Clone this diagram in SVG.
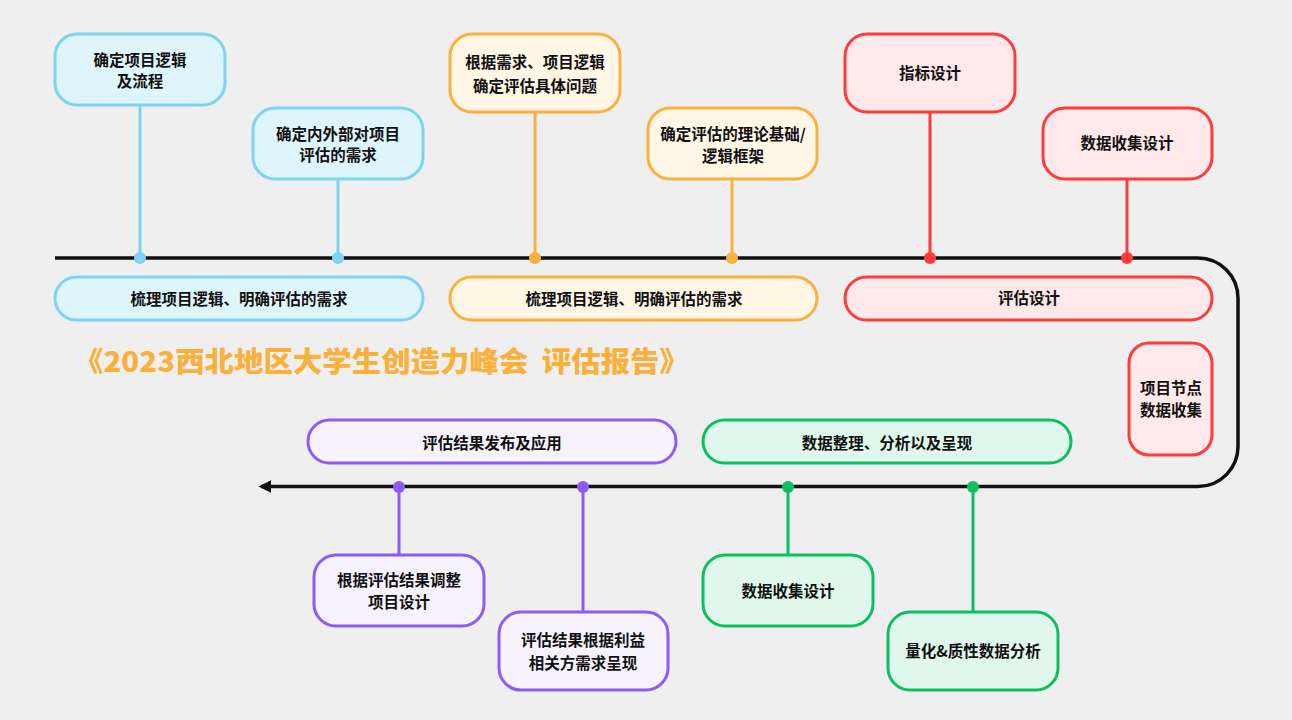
<svg xmlns="http://www.w3.org/2000/svg" width="1292" height="720" viewBox="0 0 1292 720">
<defs>
<style>
.t{font-family:"Noto Sans CJK SC","Liberation Sans",sans-serif;font-size:15.5px;font-weight:bold;fill:#111;text-anchor:middle;dominant-baseline:central}
.b rect{fill:#dff5fc;stroke:#7dd3f2;stroke-width:3}
.o rect{fill:#fff6e6;stroke:#fbb040;stroke-width:3}
.r rect{fill:#ffe9ea;stroke:#ff3b3b;stroke-width:3}
.p rect{fill:#f6f3fe;stroke:#8b5cf6;stroke-width:3}
.g rect{fill:#e0f8ec;stroke:#0dbf63;stroke-width:3}
.cb{stroke:#7dd3f2;stroke-width:3}
.co{stroke:#fbb040;stroke-width:3}
.cr{stroke:#ff3b3b;stroke-width:3}
.cp{stroke:#8b5cf6;stroke-width:3}
.cg{stroke:#0dbf63;stroke-width:3}
</style>
<marker id="ah" viewBox="0 0 10 10" refX="8" refY="5" markerWidth="3.6" markerHeight="3.6" orient="auto" markerUnits="strokeWidth">
<path d="M0,0 L10,5 L0,10 Z" fill="#111"/>
</marker>
</defs>
<rect width="1292" height="720" fill="#efefef"/>

<g id="connectors">
<path d="M55,258 H1198 A40,40 0 0 1 1238,298 V446 A40,40 0 0 1 1198,486.5 H261" fill="none" stroke="#111" stroke-width="3.5" marker-end="url(#ah)"/>
<line class="cb" x1="140" y1="105" x2="140" y2="258"/><circle cx="140" cy="258" r="6" fill="#7dd3f2"/>
<line class="cb" x1="338" y1="179" x2="338" y2="258"/><circle cx="338" cy="258" r="6" fill="#7dd3f2"/>
<line class="co" x1="535" y1="112" x2="535" y2="258"/><circle cx="535" cy="258" r="6" fill="#fbb040"/>
<line class="co" x1="732" y1="179" x2="732" y2="258"/><circle cx="732" cy="258" r="6" fill="#fbb040"/>
<line class="cr" x1="930" y1="112" x2="930" y2="258"/><circle cx="930" cy="258" r="6" fill="#ff3b3b"/>
<line class="cr" x1="1127" y1="179" x2="1127" y2="258"/><circle cx="1127" cy="258" r="6" fill="#ff3b3b"/>
<line class="cp" x1="399" y1="487" x2="399" y2="555"/><circle cx="399" cy="487" r="6" fill="#8b5cf6"/>
<line class="cp" x1="583" y1="487" x2="583" y2="612"/><circle cx="583" cy="487" r="6" fill="#8b5cf6"/>
<line class="cg" x1="788" y1="487" x2="788" y2="555"/><circle cx="788" cy="487" r="6" fill="#0dbf63"/>
<line class="cg" x1="973" y1="487" x2="973" y2="612"/><circle cx="973" cy="487" r="6" fill="#0dbf63"/>
</g>

<g id="n1" class="b"><rect x="55" y="34" width="170" height="71" rx="22"/><text class="t" x="140" y="59">确定项目逻辑</text><text class="t" x="140" y="80">及流程</text></g>
<g id="n2" class="b"><rect x="253" y="108" width="170" height="71" rx="22"/><text class="t" x="338" y="133">确定内外部对项目</text><text class="t" x="338" y="154">评估的需求</text></g>
<g id="n3" class="b"><rect x="55" y="277" width="368" height="43" rx="21.5"/><text class="t" x="239" y="298">梳理项目逻辑、明确评估的需求</text></g>

<g id="n4" class="o"><rect x="450" y="34" width="170" height="78" rx="22"/><text class="t" x="535" y="61">根据需求、项目逻辑</text><text class="t" x="535" y="85">确定评估具体问题</text></g>
<g id="n5" class="o"><rect x="648" y="108" width="169" height="71" rx="22"/><text class="t" x="733" y="133">确定评估的理论基础/</text><text class="t" x="733" y="155">逻辑框架</text></g>
<g id="n6" class="o"><rect x="450" y="277" width="367" height="43" rx="21.5"/><text class="t" x="634" y="298">梳理项目逻辑、明确评估的需求</text></g>

<g id="n7" class="r"><rect x="845" y="34" width="170" height="78" rx="22"/><text class="t" x="930" y="72">指标设计</text></g>
<g id="n8" class="r"><rect x="1043" y="108" width="169" height="71" rx="22"/><text class="t" x="1127" y="142">数据收集设计</text></g>
<g id="n9" class="r"><rect x="845" y="277" width="367" height="43" rx="21.5"/><text class="t" x="1029" y="297">评估设计</text></g>
<g id="n10" class="r"><rect x="1129" y="343" width="83" height="112" rx="20"/><text class="t" x="1171" y="387">项目节点</text><text class="t" x="1171" y="409">数据收集</text></g>

<text x="74" y="360" xml:space="preserve" textLength="615" lengthAdjust="spacingAndGlyphs" style="font-family:'Noto Sans CJK SC',sans-serif;font-size:28px;font-weight:900;fill:#fbb03b;dominant-baseline:central">《2023西北地区大学生创造力峰会  评估报告》</text>

<g id="n11" class="p"><rect x="308" y="420" width="368" height="43" rx="21.5"/><text class="t" x="492" y="442">评估结果发布及应用</text></g>
<g id="n12" class="p"><rect x="314" y="555" width="170" height="71" rx="22"/><text class="t" x="399" y="579">根据评估结果调整</text><text class="t" x="399" y="601">项目设计</text></g>
<g id="n13" class="p"><rect x="499" y="612" width="169" height="78" rx="22"/><text class="t" x="583" y="639">评估结果根据利益</text><text class="t" x="583" y="662">相关方需求呈现</text></g>

<g id="n14" class="g"><rect x="703" y="420" width="368" height="43" rx="21.5"/><text class="t" x="887" y="442">数据整理、分析以及呈现</text></g>
<g id="n15" class="g"><rect x="703" y="555" width="170" height="71" rx="22"/><text class="t" x="788" y="590">数据收集设计</text></g>
<g id="n16" class="g"><rect x="888" y="612" width="170" height="78" rx="22"/><text class="t" x="973" y="650">量化&amp;质性数据分析</text></g>
</svg>
